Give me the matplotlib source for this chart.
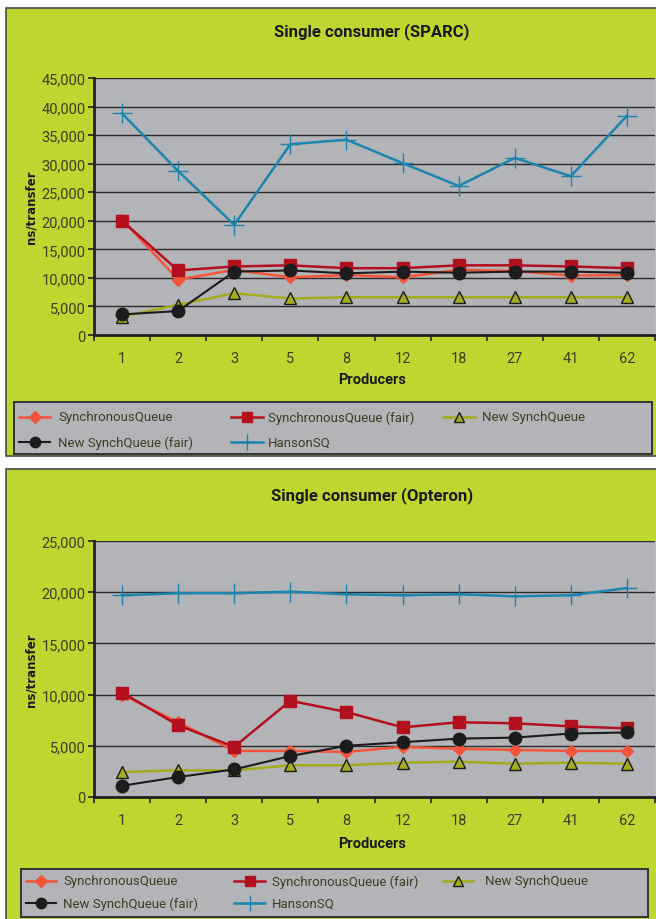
import matplotlib
matplotlib.use("Agg")
import matplotlib.pyplot as plt
from matplotlib.patches import Rectangle
from matplotlib.lines import Line2D

# ---- data -------------------------------------------------------------
producers = ["1", "2", "3", "5", "8", "12", "18", "27", "41", "62"]
series_names = ["SynchronousQueue", "SynchronousQueue (fair)", "New SynchQueue",
                "New SynchQueue (fair)", "HansonSQ"]

sparc_sq = [20200, 9700, 11400, 10100, 10500, 10100, 11400, 11200, 10400, 10500]
sparc_sq_fair = [20000, 11300, 12000, 12200, 11700, 11700, 12200, 12200, 12000, 11700]
sparc_new = [3200, 5300, 7300, 6400, 6600, 6600, 6600, 6600, 6600, 6600]
sparc_new_fair = [3600, 4200, 11100, 11300, 10800, 11100, 10900, 11100, 11100, 10900]
sparc_hanson = [38800, 28700, 19300, 33400, 34200, 30100, 26100, 31000, 27800, 38400]

opteron_sq = [10000, 7300, 4500, 4500, 4400, 4900, 4700, 4600, 4500, 4500]
opteron_sq_fair = [10200, 7000, 4900, 9400, 8300, 6800, 7300, 7200, 6900, 6700]
opteron_new = [2450, 2600, 2600, 3100, 3100, 3350, 3450, 3250, 3350, 3250]
opteron_new_fair = [1100, 1950, 2700, 4000, 5000, 5350, 5700, 5800, 6200, 6300]
opteron_hanson = [19700, 19900, 19900, 20050, 19800, 19700, 19800, 19600, 19700, 20400]

# ---- styling ----------------------------------------------------------
plt.rcParams["font.family"] = ["Roboto", "DejaVu Sans"]

GREEN = "#BED62F"
PLOT_GREY = "#B3B4B8"
TEXT = "#3D3E22"

styles = [
    dict(color="#F2553A", marker="D", markersize=6, markerfacecolor="#F2553A",
         markeredgecolor="#F2553A", linewidth=1.8),
    dict(color="#B3101E", marker="s", markersize=9, markerfacecolor="#B3101E",
         markeredgecolor="#B3101E", linewidth=1.8),
    dict(color="#A4AC1C", marker="^", markersize=9, markerfacecolor="#A4AC1C",
         markeredgecolor="#1A1A1A", markeredgewidth=1.0, linewidth=1.8),
    dict(color="#1C1C1C", marker="o", markersize=9, markerfacecolor="#1C1C1C",
         markeredgecolor="#1C1C1C", linewidth=1.5),
    dict(color="#1B85AE", marker="+", markersize=14, markeredgewidth=1.0,
         markeredgecolor="#1B85AE", linewidth=1.8),
]
legend_marker_sizes = [6, 7.5, 7, 7.5, 11]

W, H = 656, 920
fig = plt.figure(figsize=(W / 100, H / 100), dpi=100)
fig.patch.set_facecolor("white")


def fx(px):
    return px / W


def fy(py):
    return 1 - py / H


def draw_legend(box, rows_y, cols):
    """Boxed key with entries laid out row by row in three columns."""
    x0, y0, x1, y1 = box
    fig.add_artist(Rectangle((fx(x0), fy(y1)), fx(x1) - fx(x0), fy(y0) - fy(y1),
                             transform=fig.transFigure, facecolor=PLOT_GREY,
                             edgecolor="#333333", linewidth=1.4, zorder=1))
    for i, name in enumerate(series_names):
        r, c = divmod(i, 3)
        hx0, hx1, tx = cols[c]
        y = fy(rows_y[r])
        st = dict(styles[i])
        st["markersize"] = legend_marker_sizes[i]
        fig.add_artist(Line2D([fx(hx0), fx(hx1)], [y, y], transform=fig.transFigure,
                              zorder=2, **{k: v for k, v in st.items() if k != "marker"}))
        fig.add_artist(Line2D([(fx(hx0) + fx(hx1)) / 2], [y], transform=fig.transFigure,
                              linestyle="none", zorder=3, **st))
        fig.text(fx(tx), y, name, ha="left", va="center", fontsize=9.5,
                 color=TEXT, zorder=3)


def panel(frame_top, frame_bottom, ax_top, ax_bottom, title, title_y,
          ymax, ystep, data, xlab_y, leg_box, rows_y, cols):
    # green background frame
    fig.add_artist(Rectangle((fx(6), fy(frame_bottom)), fx(660) - fx(6),
                             fy(frame_top) - fy(frame_bottom),
                             transform=fig.transFigure, facecolor=GREEN,
                             edgecolor="#4A4A4A", linewidth=1.2, zorder=0))
    ax = fig.add_axes([fx(94), fy(ax_bottom), fx(655) - fx(94),
                       fy(ax_top) - fy(ax_bottom)])
    ax.set_facecolor(PLOT_GREY)
    x = list(range(len(producers)))
    for vals, st, name in zip(data, styles, series_names):
        ax.plot(x, vals, label=name, zorder=3, clip_on=False, **st)
    ax.set_xlim(-0.5, len(producers) - 0.5)
    ax.set_ylim(0, ymax)
    yt = list(range(0, ymax + 1, ystep))
    ax.set_yticks(yt)
    ax.set_yticklabels([f"{v:,}" for v in yt])
    ax.set_xticks(x)
    ax.set_xticklabels(producers)
    ax.set_xticks([i - 0.5 for i in range(len(producers) + 1)], minor=True)
    ax.tick_params(axis="x", which="major", length=0, pad=11.5, labelsize=10.5,
                   labelcolor=TEXT)
    ax.tick_params(axis="x", which="minor", length=4, width=1.2, color="#222222",
                   direction="out")
    ax.tick_params(axis="y", length=4, width=1.2, color="#222222",
                   labelsize=10.5, labelcolor=TEXT, pad=2)
    ax.grid(axis="y", color="#2A2A2A", linewidth=1.0, zorder=1)
    ax.set_axisbelow(True)
    for side in ("top", "right"):
        ax.spines[side].set_visible(False)
    for side in ("left", "bottom"):
        ax.spines[side].set_color("#222222")
        ax.spines[side].set_linewidth(2.0)

    fig.text(fx(372), fy(title_y), title, ha="center", va="center",
             fontsize=12, fontweight="bold", color="#1A1A1A")
    fig.text(fx(372), fy(xlab_y), "Producers", ha="center", va="center",
             fontsize=10.5, fontweight="bold", color="#1A1A1A")
    fig.text(fx(31), (fy(ax_top) + fy(ax_bottom)) / 2, "ns/transfer",
             ha="center", va="center", rotation=90, fontsize=8.5,
             fontweight="bold", color="#1A1A1A", family="DejaVu Sans")

    draw_legend(leg_box, rows_y, cols)
    return ax


panel(9, 457, 79, 336, "Single consumer (SPARC)", 32, 45000, 5000,
      [sparc_sq, sparc_sq_fair, sparc_new, sparc_new_fair, sparc_hanson],
      380, (14, 403, 652, 455), (418, 443),
      [(19, 50, 58), (231, 263, 268), (443, 475, 482)])
panel(470, 925, 542, 798, "Single consumer (Opteron)", 496, 25000, 5000,
      [opteron_sq, opteron_sq_fair, opteron_new, opteron_new_fair, opteron_hanson],
      844, (21, 870, 648, 918), (882, 904),
      [(26, 56, 63), (234, 265, 272), (443, 473, 485)])

fig.savefig("out.png", dpi=100, facecolor=fig.get_facecolor())
